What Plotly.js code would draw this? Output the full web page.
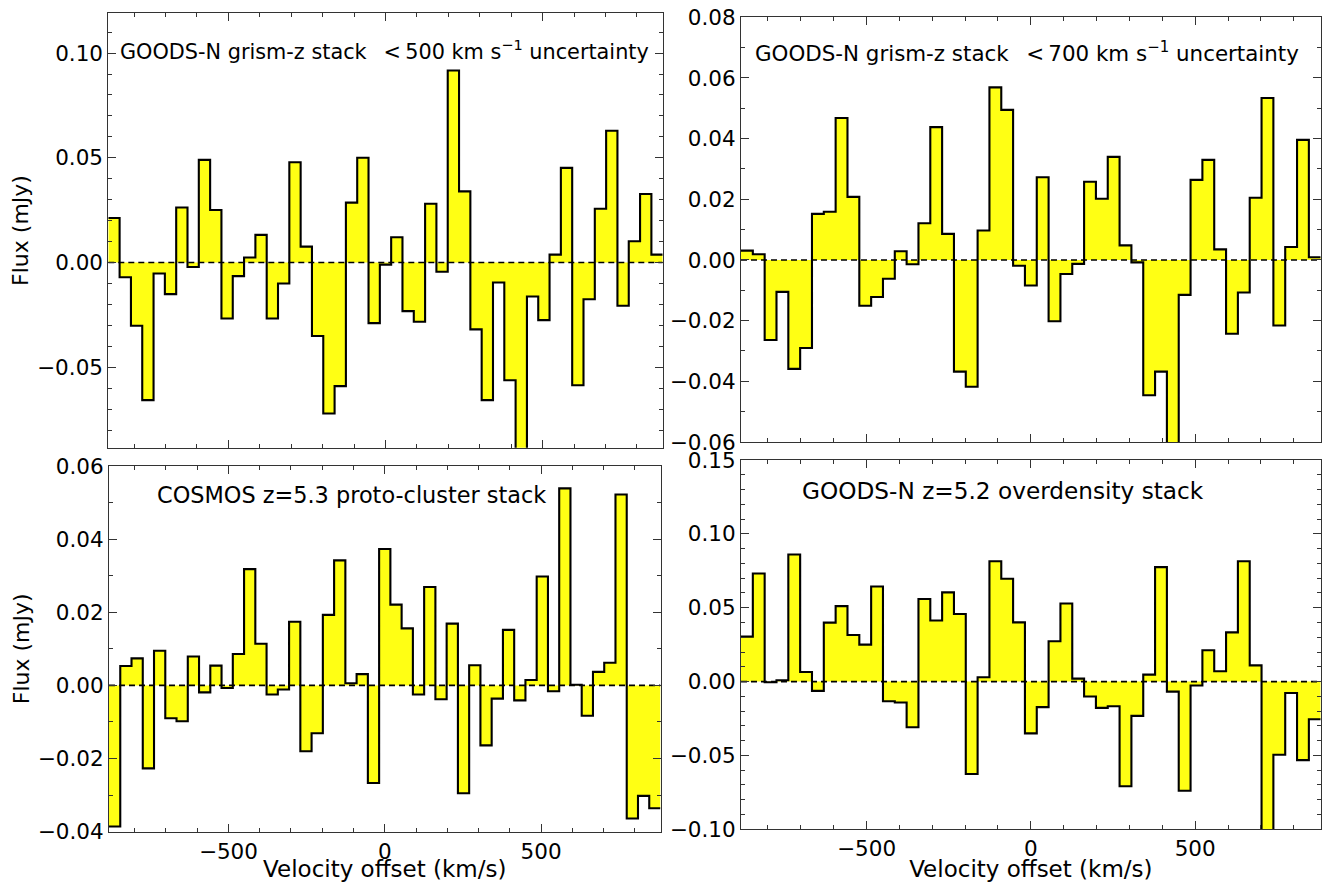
<!DOCTYPE html>
<html>
<head>
<meta charset="utf-8">
<script src="https://cdn.plot.ly/plotly-3.0.1.min.js"></script>
<style>html,body{margin:0;padding:0;background:#fff}#chart{width:1338px;height:882px}</style>
</head>
<body>
<div id="chart"></div>
<script>
// Velocity bin centres (km/s)
const velocity = [-864,-828,-792,-756,-720,-684,-648,-612,-576,-540,-504,-468,-432,-396,-360,-324,-288,-252,-216,-180,-144,-108,-72,-36,0,36,72,108,144,180,216,252,288,324,360,396,432,468,504,540,576,612,648,684,720,756,792,828,864];
const binWidth = 36;

// Panel a: GOODS-N grism-z stack <500 km/s
const fluxGrism500 = [0.0213,-0.0070,-0.0302,-0.0657,-0.0052,-0.0151,0.0263,-0.0021,0.0490,0.0251,
  -0.0267,-0.0065,0.0024,0.0132,-0.0267,-0.0100,0.0479,0.0076,-0.0351,-0.0721,
  -0.0590,0.0286,0.0500,-0.0289,-0.0010,0.0121,-0.0232,-0.0283,0.0281,-0.0044,
  0.0917,0.0340,-0.0319,-0.0657,-0.0095,-0.0562,-0.0950,-0.0162,-0.0275,0.0038,
  0.0452,-0.0586,-0.0175,0.0257,0.0629,-0.0206,0.0102,0.0327,0.0038];

// Panel b: GOODS-N grism-z stack <700 km/s
const fluxGrism700 = [0.0031,0.0019,-0.0264,-0.0105,-0.0359,-0.0290,0.0152,0.0159,0.0468,0.0208,
  -0.0151,-0.0122,-0.0062,0.0029,-0.0014,0.0121,0.0438,0.0086,-0.0368,-0.0418,
  0.0097,0.0569,0.0495,-0.0019,-0.0084,0.0273,-0.0202,-0.0046,-0.0013,0.0258,
  0.0202,0.0340,0.0048,-0.0008,-0.0446,-0.0368,-0.0650,-0.0115,0.0264,0.0330,
  0.0035,-0.0243,-0.0107,0.0205,0.0534,-0.0216,0.0043,0.0396,0.0009];

// Panel c: COSMOS z=5.3 proto-cluster stack
const fluxCosmos = [-0.0386,0.0053,0.0074,-0.0227,0.0095,-0.0090,-0.0098,0.0079,-0.0019,0.0054,
  -0.0007,0.0086,0.0318,0.0114,-0.0025,-0.0011,0.0174,-0.0180,-0.0131,0.0193,
  0.0342,0.0006,0.0031,-0.0267,0.0373,0.0221,0.0156,-0.0025,0.0269,-0.0038,
  0.0169,-0.0295,0.0055,-0.0164,-0.0036,0.0152,-0.0041,0.0015,0.0298,-0.0016,
  0.0539,0.0002,-0.0083,0.0037,0.0062,0.0522,-0.0364,-0.0302,-0.0336];

// Panel d: GOODS-N z=5.2 overdensity stack
const fluxOverdensity = [0.0304,0.0732,-0.0005,0.0009,0.0860,0.0065,-0.0063,0.0399,0.0511,0.0315,
  0.0250,0.0644,-0.0133,-0.0142,-0.0309,0.0559,0.0414,0.0604,0.0457,-0.0626,
  0.0029,0.0815,0.0696,0.0401,-0.0351,-0.0173,0.0273,0.0529,0.0020,-0.0101,
  -0.0178,-0.0167,-0.0709,-0.0232,0.0047,0.0775,-0.0068,-0.0739,-0.0027,0.0212,
  0.0070,0.0333,0.0815,0.0110,-0.1100,-0.0495,-0.0077,-0.0532,-0.0255];

const panelLabels = [
  "GOODS-N grism-z stack \u2002&lt;\u2009500 km s<sup>\u22121</sup> uncertainty",
  "GOODS-N grism-z stack \u2002&lt;\u2009700 km s<sup>\u22121</sup> uncertainty",
  "COSMOS z=5.3 proto-cluster stack",
  "GOODS-N z=5.2 overdensity stack"
];
const xTitle = "Velocity offset (km/s)";
const yTitle = "Flux (mJy)";

const W = 1338, H = 882;
const FONT = "DejaVu Sans, Liberation Sans, sans-serif";
const xRange = [-882, 882];

const panels = [
  {y: fluxGrism500, px: [108.3, 662.7], py: [13.3, 447.7], yr: [-0.0884, 0.119], dt: 0.05, lab: [118, 49.5], fs: 20.8},
  {y: fluxGrism700, px: [741, 1320.7], py: [17.3, 442], yr: [-0.06001, 0.08001], dt: 0.02, lab: [753, 51.5], fs: 21.4},
  {y: fluxCosmos, px: [109, 660.5], py: [466, 831.7], yr: [-0.04001, 0.06001], dt: 0.02, lab: [155, 495], fs: 22.4},
  {y: fluxOverdensity, px: [741, 1320.7], py: [460, 829.3], yr: [-0.10001, 0.15001], dt: 0.05, lab: [800, 490], fs: 23.2}
];

const traces = [];
const layout = {
  width: W, height: H,
  margin: {l: 0, r: 0, t: 0, b: 0},
  paper_bgcolor: '#fff', plot_bgcolor: '#fff',
  showlegend: false,
  font: {family: FONT, size: 20, color: '#000'},
  annotations: []
};

panels.forEach((p, i) => {
  const n = i + 1;
  const xa = n === 1 ? 'x' : 'x' + n;
  const ya = n === 1 ? 'y' : 'y' + n;
  // step edges derived from bin centres
  const xs = velocity.map(v => v - binWidth / 2);
  xs.push(velocity[velocity.length - 1] + binWidth / 2);
  const ys = p.y.slice();
  ys.push(p.y[p.y.length - 1]);

  traces.push({x: xs, y: ys, xaxis: xa, yaxis: ya, type: 'scatter', mode: 'lines',
    line: {shape: 'hv', width: 0, color: 'rgba(0,0,0,0)'}, fill: 'tozeroy', fillcolor: '#ffff14', hoverinfo: 'skip'});
  traces.push({x: xRange, y: [0, 0], xaxis: xa, yaxis: ya, type: 'scatter', mode: 'lines',
    line: {color: '#000', width: 1.6, dash: '6px,4px'}, hoverinfo: 'skip'});
  traces.push({x: xs, y: ys, xaxis: xa, yaxis: ya, type: 'scatter', mode: 'lines',
    line: {shape: 'hv', width: 2.1, color: '#000'}, hoverinfo: 'skip'});

  const bottom = n >= 3;
  const left = (n === 1 || n === 3);
  const xax = {
    domain: [p.px[0] / W, p.px[1] / W], anchor: ya, range: xRange,
    showgrid: false, zeroline: false, showline: true, linecolor: '#333', linewidth: 1, mirror: 'ticks',
    ticks: 'inside', ticklen: 8, tickwidth: 1, tickcolor: '#333',
    tickmode: 'linear', tick0: 0, dtick: 500,
    minor: {ticks: 'inside', ticklen: 4, tickwidth: 1, tickcolor: '#333', dtick: 100, tick0: 0, showgrid: false},
    showticklabels: bottom, tickfont: {family: FONT, size: 21.5, color: '#000'}
  };
  if (bottom) xax.title = {text: xTitle, font: {family: FONT, size: 23, color: '#000'}, standoff: 5};
  layout['xaxis' + (n === 1 ? '' : n)] = xax;

  const yax = {
    domain: [1 - p.py[1] / H, 1 - p.py[0] / H], anchor: xa, range: p.yr,
    showgrid: false, zeroline: false, showline: true, linecolor: '#333', linewidth: 1, mirror: 'ticks',
    ticks: 'inside', ticklen: 8, tickwidth: 1, tickcolor: '#333',
    tickmode: 'linear', tick0: 0, dtick: p.dt, tickformat: '.2f',
    minor: {ticks: 'inside', ticklen: 4, tickwidth: 1, tickcolor: '#333', dtick: 0.01, tick0: 0, showgrid: false},
    tickfont: {family: FONT, size: 21.5, color: '#000'}
  };
  if (left) yax.title = {text: yTitle, font: {family: FONT, size: 22, color: '#000'}, standoff: 2};
  layout['yaxis' + (n === 1 ? '' : n)] = yax;

  layout.annotations.push({
    text: panelLabels[i], xref: 'paper', yref: 'paper',
    x: p.lab[0] / W, y: 1 - p.lab[1] / H, xanchor: 'left', yanchor: 'middle',
    showarrow: false, font: {family: FONT, size: p.fs, color: '#000'}
  });
});

Plotly.newPlot('chart', traces, layout, {staticPlot: true, displayModeBar: false});
</script>
</body>
</html>
